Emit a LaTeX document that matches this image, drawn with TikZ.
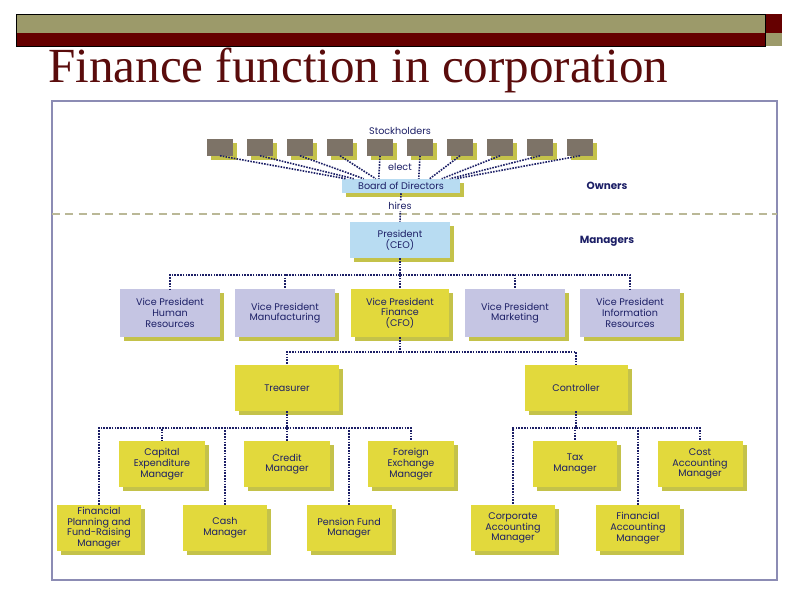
\documentclass[tikz,border=0pt]{standalone}
\usepackage{fontspec}
\setmainfont{Poppins}
\newfontfamily\titlefont{Liberation Serif}
\usetikzlibrary{shadows,calc}
\newlength\pxu \setlength\pxu{0.75pt}
\definecolor{olivebar}{HTML}{9C9A6A}
\definecolor{maroon}{HTML}{650000}
\definecolor{titlec}{HTML}{5A0C0C}
\definecolor{navy}{HTML}{1C1F66}
\definecolor{ybox}{HTML}{E2D93C}
\definecolor{yshadow}{HTML}{C4C24A}
\definecolor{vpbox}{HTML}{C5C5E3}
\definecolor{bluebox}{HTML}{B8DCF2}
\definecolor{stock}{HTML}{7D7367}
\definecolor{panel}{HTML}{8C8CB4}
\tikzset{
  base/.style={draw=none, align=center, text=navy, font=\fontsize{7.2pt}{8pt}\selectfont,
    inner sep=0pt, drop shadow={shadow xshift=4\pxu, shadow yshift=-4\pxu, fill=yshadow, opacity=1}},
  ybox/.style={base, fill=ybox, minimum width=86\pxu, minimum height=46\pxu},
  vp/.style={base, fill=vpbox, minimum width=100\pxu, minimum height=48\pxu},
  sh/.style={base, fill=stock, minimum width=26\pxu, minimum height=17\pxu},
  link/.style={draw=navy, dash pattern=on 1.2pt off 0.9pt, line width=1.6\pxu},
  lbl/.style={text=navy, font=\fontsize{7.2pt}{8pt}\selectfont, inner sep=1pt},
  side/.style={text=navy, font=\fontsize{7.8pt}{8pt}\selectfont\bfseries}
}
\begin{document}
\begin{tikzpicture}[x=0.75pt,y=-0.75pt]
\useasboundingbox (0,0) rectangle (800,600);
\fill[white] (0,0) rectangle (800,600);
% banner
\fill[olivebar] (16,14) rectangle (765,33);
\fill[maroon] (16,33) rectangle (765,46);
\fill[maroon] (765,14) rectangle (782,33);
\fill[olivebar] (765,33) rectangle (782,46);
\draw[black,line width=0.5] (16,14) rectangle (765,46);
\node[anchor=base west, text=titlec, font=\titlefont\fontsize{36.8pt}{38pt}\selectfont, inner sep=0pt] (title) at (48,82) {Finance function in corporation};
% panel
\draw[panel, line width=1.2] (52,101) rectangle (777,580);
\draw[olivebar!70, line width=1.2, dash pattern=on 6pt off 4pt] (52,214) -- (777,214);
% stockholders
\node[lbl] (stk) at (400,131) {Stockholders};
\foreach \i/\x in {1/220,2/260,3/300,4/340,5/380,6/420,7/460,8/500,9/540,10/580}{
  \node[sh] (s\i) at (\x,147) {};
}
\node[base, fill=bluebox, minimum width=118\pxu, minimum height=14\pxu] (bod) at (401,186) {Board of Directors};
\foreach \i/\e in {1/4,2/12,3/22,4/34,5/37,6/77,7/88,8/100,9/108,10/114}{
  \draw[link] (s\i.south) -- ($(bod.north west)+(\e,0)$);
}
\node[lbl, fill=white] (elect) at (400,167) {elect};
\node[side] (own) at (607,186) {Owners};
\node[base, fill=bluebox, minimum width=100\pxu, minimum height=36\pxu] (ceo) at (400,240) {President\\(CEO)};
\draw[link] (bod.south) -- (ceo.north);
\node[lbl, fill=white] (hires) at (400,206) {hires};
\node[side] (mgr) at (607,241) {Managers};
% VPs
\node[vp] (vhr) at (170,313) {Vice President\\Human\\Resources};
\node[vp] (vmf) at (285,313) {Vice President\\Manufacturing};
\node[ybox, minimum width=98\pxu, minimum height=48\pxu] (vfi) at (400,313) {Vice President\\Finance\\(CFO)};
\node[vp] (vmk) at (515,313) {Vice President\\Marketing};
\node[vp] (vir) at (630,313) {Vice President\\Information\\Resources};
\coordinate (busv) at (400,275);
\draw[link] (ceo.south) -- (busv);
\foreach \n in {vhr,vmf,vfi,vmk,vir}{ \draw[link] (busv) -| (\n.north); }
% treasurer / controller
\node[ybox, minimum width=104\pxu, minimum height=46\pxu] (tre) at (287,388) {Treasurer};
\node[ybox, minimum width=103\pxu, minimum height=46\pxu] (con) at (576,388) {Controller};
\coordinate (bust) at (400,352);
\draw[link] (vfi.south) -- (bust);
\draw[link] (bust) -| (tre.north);
\draw[link] (bust) -| (con.north);
% treasurer children
\node[ybox] (cap) at (162,464) {Capital\\Expenditure\\Manager};
\node[ybox] (cre) at (287,464) {Credit\\Manager};
\node[ybox] (fx) at (411,464) {Foreign\\Exchange\\Manager};
\node[ybox, minimum width=84\pxu] (fp) at (99,528) {Financial\\Planning and\\Fund-Raising\\Manager};
\node[ybox, minimum width=84\pxu] (cash) at (225,528) {Cash\\Manager};
\node[ybox, minimum width=85\pxu] (pen) at (349,528) {Pension Fund\\Manager};
\coordinate (bustr) at (287,428);
\draw[link] (tre.south) -- (bustr);
\foreach \n in {fp,cap,cash,cre,pen,fx}{ \draw[link] (bustr) -| (\n.north); }
% controller children
\node[ybox, minimum width=84\pxu] (tax) at (575,464) {Tax\\Manager};
\node[ybox, minimum width=85\pxu] (cost) at (700,464) {Cost\\Accounting\\Manager};
\node[ybox, minimum width=84\pxu] (corp) at (513,528) {Corporate\\Accounting\\Manager};
\node[ybox, minimum width=84\pxu] (fin) at (638,528) {Financial\\Accounting\\Manager};
\coordinate (busc) at (576,428);
\draw[link] (con.south) -- (busc);
\foreach \n in {corp,tax,fin,cost}{ \draw[link] (busc) -| (\n.north); }
\end{tikzpicture}
\end{document}
